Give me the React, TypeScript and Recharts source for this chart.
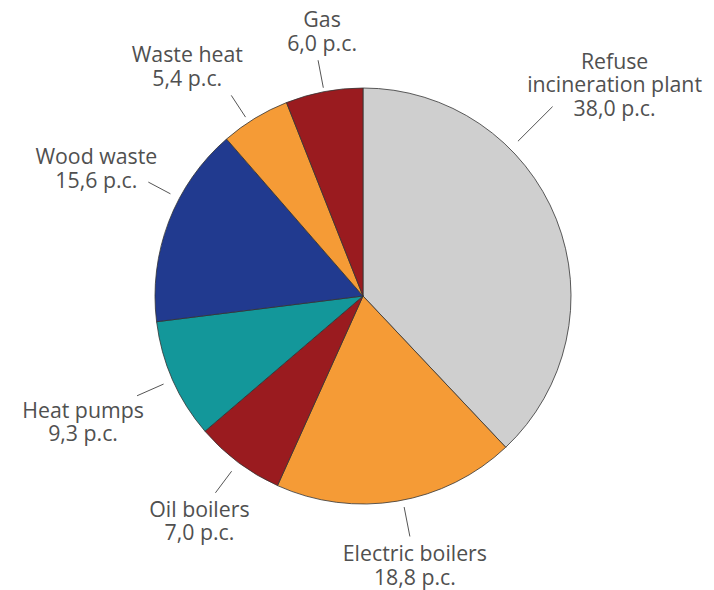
import React from 'react';
import { PieChart, Pie, Cell } from 'recharts';

// district heating sources, clockwise from 12 o'clock
const sourceNames = [
  'Refuse\nincineration plant',
  'Electric boilers',
  'Oil boilers',
  'Heat pumps',
  'Wood waste',
  'Waste heat',
  'Gas',
];
const shares = [38.0, 18.8, 7.0, 9.3, 15.6, 5.4, 6.0];
const sliceColors = ['#cfcfcf', '#f59b36', '#9a1b1f', '#13979a', '#213a8f', '#f59b36', '#9a1b1f'];

// label placement: angle shift (deg), leader start/end beyond the rim, text offset from leader end
const labelLayout = [
  { shift: 23.3, from: 11, to: 60, dx: 62, dy: -38 },
  { shift: 1.5, from: 7, to: 37, dx: 5, dy: 25 },
  { shift: 0, from: 11, to: 38, dx: -16, dy: 24 },
  { shift: 0, from: 10, to: 39, dx: -54, dy: 22 },
  { shift: -7, from: 10, to: 35, dx: -52, dy: -18 },
  { shift: 2, from: 6, to: 32, dx: -44, dy: -33 },
  { shift: 0, from: 4, to: 32, dx: 4, dy: -33 },
];

const data = sourceNames.map((name, i) => ({ name, value: shares[i] }));

const RAD = Math.PI / 180;
const LINE_H = 23.5;

const renderLabel = (props: any) => {
  const { cx, cy, midAngle, outerRadius, index } = props;
  const l = labelLayout[index];
  const a = (midAngle + l.shift) * RAD;
  const x1 = cx + (outerRadius + l.from) * Math.cos(a);
  const y1 = cy - (outerRadius + l.from) * Math.sin(a);
  const x2 = cx + (outerRadius + l.to) * Math.cos(a);
  const y2 = cy - (outerRadius + l.to) * Math.sin(a);
  const lines = [...sourceNames[index].split('\n'), `${shares[index].toFixed(1).replace('.', ',')} p.c.`];
  const tx = x2 + l.dx;
  const ty = y2 + l.dy;
  return (
    <g key={`lbl-${index}`}>
      <line x1={x1} y1={y1} x2={x2} y2={y2} stroke="#555" strokeWidth={1} />
      <text x={tx} y={ty} textAnchor="middle" fill="#505050" fontSize={21.3} fontFamily="'Open Sans', sans-serif">
        {lines.map((t, i) => (
          <tspan key={i} x={tx} y={ty + i * LINE_H}>
            {t}
          </tspan>
        ))}
      </text>
    </g>
  );
};

export default function App() {
  return (
    <div style={{ position: 'absolute', left: 0, top: 0, background: '#fff' }}>
      <PieChart width={714} height={590} margin={{ top: 0, right: 0, bottom: 0, left: 0 }}>
        <Pie
          data={data}
          dataKey="value"
          nameKey="name"
          cx={363}
          cy={296}
          outerRadius={208}
          startAngle={90}
          endAngle={-270}
          stroke="#333"
          strokeWidth={0.8}
          label={renderLabel}
          labelLine={false}
          isAnimationActive={false}
        >
          {data.map((d, i) => (
            <Cell key={d.name} fill={sliceColors[i]} />
          ))}
        </Pie>
      </PieChart>
    </div>
  );
}
